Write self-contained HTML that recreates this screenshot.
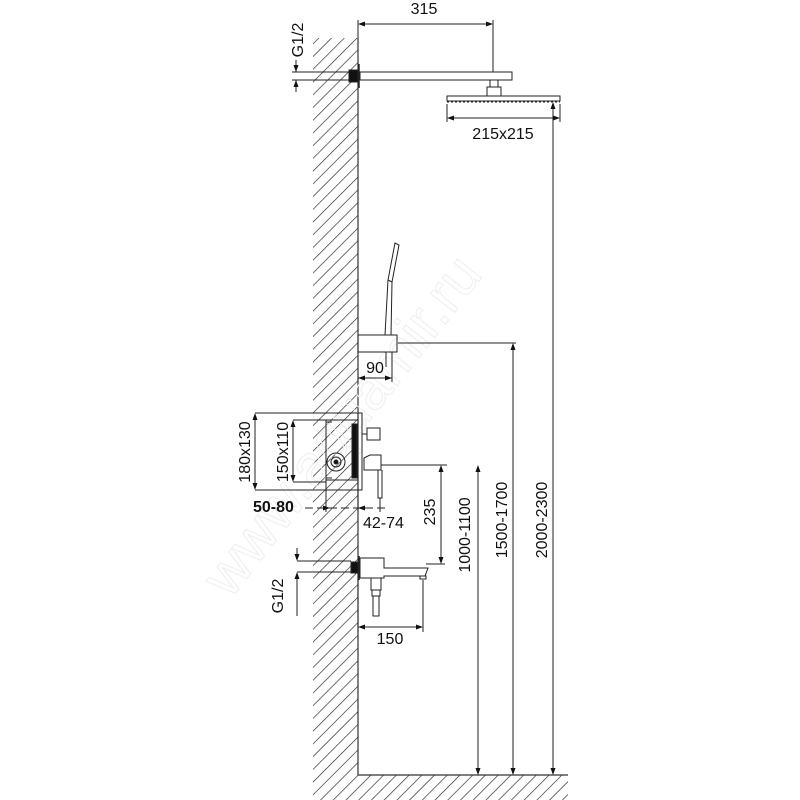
<!DOCTYPE html>
<html><head><style>body{margin:0;background:#fff}svg{display:block}text{font-family:"Liberation Sans",Arial,sans-serif;fill:#111}</style></head><body>
<svg width="800" height="800" viewBox="0 0 800 800" xmlns="http://www.w3.org/2000/svg">
<defs>
<pattern id="h" width="9" height="9" patternUnits="userSpaceOnUse" patternTransform="rotate(45)">
<line x1="0" y1="0" x2="0" y2="9" stroke="#222" stroke-width="1.3"/></pattern>
</defs>
<rect x="313" y="38" width="45" height="762" fill="url(#h)"/>
<rect x="358" y="775" width="210" height="25" fill="url(#h)"/>
<path d="M358 38 V775 H568" fill="none" stroke="#333" stroke-width="1.2"/>
<text x="0" y="0" transform="translate(230,600) rotate(-52)" font-size="58" stroke="#eee" stroke-width="1" style="fill:none">www.aquamir.ru</text>
<g stroke="#222" fill="none" stroke-width="1">
<rect x="349" y="70" width="9" height="12" fill="#111"/>
<line x1="359" y1="64" x2="359" y2="88" stroke-width="1.5"/>
<rect x="360" y="72" width="152" height="8"/>
<rect x="490" y="80" width="8" height="7"/>
<rect x="487" y="87" width="14" height="9"/>
<rect x="447" y="96" width="113" height="5"/>
<line x1="447" y1="102" x2="560" y2="102" stroke-dasharray="2 2"/>
<line x1="358" y1="20" x2="358" y2="38"/><line x1="493" y1="20" x2="493" y2="72"/>
<line x1="360" y1="24" x2="491" y2="24"/>
<line x1="447" y1="104" x2="447" y2="122"/><line x1="560" y1="104" x2="560" y2="122"/>
<line x1="449" y1="118" x2="558" y2="118"/>
<line x1="292" y1="72" x2="349" y2="72"/><line x1="292" y1="80" x2="349" y2="80"/>
<line x1="296" y1="60" x2="296" y2="72"/><line x1="296" y1="80" x2="296" y2="92"/>
<rect x="358" y="335" width="39" height="17"/>
<path d="M385 335 L388 280 L395 243 L399 245 L392 282 L391 335"/>
<line x1="388" y1="280" x2="392" y2="282"/>
<line x1="386" y1="352" x2="386" y2="367"/><line x1="392" y1="352" x2="392" y2="382"/>
<line x1="358" y1="378" x2="392" y2="378"/>
<line x1="398" y1="343" x2="516" y2="343"/>
<rect x="326" y="420" width="32" height="60"/>
<rect x="352" y="424" width="5" height="54" fill="#111"/>
<rect x="358" y="413" width="4" height="77"/>
<circle cx="336" cy="462" r="9"/><circle cx="336" cy="462" r="5"/><circle cx="336" cy="462" r="2" fill="#111"/>
<line x1="326" y1="422" x2="332" y2="422"/><line x1="326" y1="478" x2="332" y2="478"/>
<rect x="367" y="428" width="13" height="12"/><line x1="362" y1="434" x2="367" y2="434"/>
<path d="M364 458 L370 455 H381 V470 H364Z"/>
<path d="M378 470 V498 H382 V470"/>
<line x1="381" y1="465" x2="447" y2="465"/>
<line x1="255" y1="413" x2="358" y2="413"/><line x1="255" y1="490" x2="358" y2="490"/>
<line x1="255" y1="415" x2="255" y2="488"/>
<line x1="293" y1="420" x2="326" y2="420"/><line x1="293" y1="482" x2="326" y2="482"/>
<line x1="293" y1="422" x2="293" y2="480"/>
<line x1="305" y1="508" x2="385" y2="508" stroke-dasharray="8 4"/>
<line x1="326" y1="480" x2="326" y2="512"/><line x1="358" y1="490" x2="358" y2="512"/><line x1="380" y1="498" x2="380" y2="512"/>
<line x1="441" y1="467" x2="441" y2="562"/>
<line x1="426" y1="564" x2="445" y2="564"/>
<rect x="351" y="562" width="7" height="11" fill="#111"/>
<line x1="359" y1="556" x2="359" y2="580" stroke-width="1.5"/>
<path d="M360 558 H384 V568 H428 L425 576 H384 V578 H360Z"/>
<rect x="420" y="576" width="6" height="3"/>
<path d="M371 578 V590 H381 V578"/><rect x="372" y="590" width="8" height="6"/>
<rect x="373" y="596" width="6" height="20"/>
<line x1="297" y1="561" x2="351" y2="561"/><line x1="297" y1="572" x2="351" y2="572"/>
<line x1="297" y1="548" x2="297" y2="559"/><line x1="297" y1="574" x2="297" y2="616"/>
<line x1="358" y1="580" x2="358" y2="632"/><line x1="423" y1="580" x2="423" y2="632"/>
<line x1="360" y1="627" x2="421" y2="627"/>
<line x1="478" y1="467" x2="478" y2="773"/>
<line x1="513" y1="345" x2="513" y2="773"/>
<line x1="553" y1="104" x2="553" y2="773"/>
</g>
<g fill="#111">
<path d="M358 24 l7 -2.5 v5z M493 24 l-7 -2.5 v5z M447 118 l7 -2.5 v5z M560 118 l-7 -2.5 v5z M296 72 l-2.5 -7 h5z M296 80 l-2.5 7 h5z"/>
<path d="M358 378 l7 -2.5 v5z M392 378 l-7 -2.5 v5z M255 413 l-2.5 7 h5z M255 490 l-2.5 -7 h5z M293 420 l-2.5 7 h5z M293 482 l-2.5 -7 h5z"/>
<path d="M441 465 l-2.5 7 h5z M441 564 l-2.5 -7 h5z M297 561 l-2.5 -7 h5z M297 572 l-2.5 7 h5z M358 627 l7 -2.5 v5z M423 627 l-7 -2.5 v5z"/>
<path d="M478 465 l-2.5 7 h5z M478 775 l-2.5 -7 h5z M513 343 l-2.5 7 h5z M513 775 l-2.5 -7 h5z M553 102 l-2.5 7 h5z M553 775 l-2.5 -7 h5z"/>
<path d="M330 508 l-7 -2.5 v5z M358 508 l7 -2.5 v5z"/>
</g>
<g font-size="16">
<text x="424" y="14" text-anchor="middle">315</text>
<text x="503" y="139" text-anchor="middle">215x215</text>
<text x="375" y="373" text-anchor="middle">90</text>
<text x="253" y="512" font-weight="bold">50-80</text>
<text x="363" y="528">42-74</text>
<text transform="translate(303,40) rotate(-90)" text-anchor="middle">G1/2</text>
<text transform="translate(283,596) rotate(-90)" text-anchor="middle">G1/2</text>
<text transform="translate(390,644)" text-anchor="middle">150</text>
<text transform="translate(250,452) rotate(-90)" text-anchor="middle">180x130</text>
<text transform="translate(288,452) rotate(-90)" text-anchor="middle">150x110</text>
<text transform="translate(435,512) rotate(-90)" text-anchor="middle">235</text>
<text transform="translate(470,535) rotate(-90)" text-anchor="middle">1000-1100</text>
<text transform="translate(507,520) rotate(-90)" text-anchor="middle">1500-1700</text>
<text transform="translate(547,520) rotate(-90)" text-anchor="middle">2000-2300</text>
</g>
</svg>
</body></html>
